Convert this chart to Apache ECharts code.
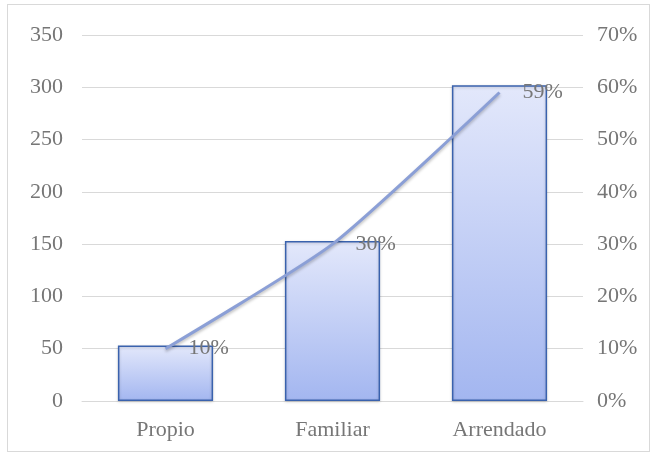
<!DOCTYPE html>
<html>
<head>
<meta charset="utf-8">
<script src="https://cdn.jsdelivr.net/npm/echarts@6/dist/echarts.min.js"></script>
<style>
  html, body { margin: 0; padding: 0; background: #fff; }
  #frame { position: absolute; left: 7px; top: 4px; width: 643px; height: 448px; border: 1px solid #d9d9d9; box-sizing: border-box; }
  #chart { position: absolute; left: 0; top: 0; width: 659px; height: 457px; }
</style>
</head>
<body>
<div id="frame"></div>
<div id="chart"></div>
<script>
// Housing tenure: counts (bars, left axis) and share (line, right axis)
const categories = ['Propio', 'Familiar', 'Arrendado'];
const counts = [53, 153, 302];
const shares = [10, 30, 59];
const leftTicks = { min: 0, max: 350, interval: 50 };
const rightTicks = { min: 0, max: 70, interval: 10 };

const font = 'Liberation Serif, Times New Roman, serif';
const grey = '#767676';
const fs = 22;

const chart = echarts.init(document.getElementById('chart'), null, { renderer: 'canvas' });
chart.setOption({
  animation: false,
  grid: { left: 82, right: 76, top: 35, bottom: 56 },
  xAxis: {
    type: 'category',
    data: categories,
    axisLine: { lineStyle: { color: '#d9d9d9', width: 1 } },
    axisTick: { show: false },
    axisLabel: { color: grey, fontFamily: font, fontSize: fs, margin: 18 }
  },
  yAxis: [
    {
      type: 'value',
      min: leftTicks.min, max: leftTicks.max, interval: leftTicks.interval,
      axisLine: { show: false }, axisTick: { show: false },
      splitLine: { lineStyle: { color: '#d9d9d9', width: 1 } },
      axisLabel: { color: grey, fontFamily: font, fontSize: fs, margin: 19 }
    },
    {
      type: 'value',
      min: rightTicks.min, max: rightTicks.max, interval: rightTicks.interval,
      axisLine: { show: false }, axisTick: { show: false },
      splitLine: { show: false },
      axisLabel: { color: grey, fontFamily: font, fontSize: fs, margin: 14, formatter: '{value}%' }
    }
  ],
  series: [
    {
      type: 'bar',
      data: counts,
      yAxisIndex: 0,
      barWidth: '57%',
      itemStyle: {
        color: new echarts.graphic.LinearGradient(0, 0, 0, 1, [
          { offset: 0, color: '#e3e8fb' },
          { offset: 1, color: '#a3b6f0' }
        ]),
        borderColor: '#3a62ad',
        borderWidth: 1.5,
        shadowColor: 'rgba(0,0,0,0.2)',
        shadowBlur: 3,
        shadowOffsetY: 1
      }
    },
    {
      type: 'line',
      data: shares,
      yAxisIndex: 1,
      smooth: 0.2,
      symbol: 'circle',
      symbolSize: 2,
      showSymbol: true,
      itemStyle: { color: 'rgba(0,0,0,0)', borderWidth: 0 },
      lineStyle: {
        color: '#8b9fd6', width: 3,
        shadowColor: 'rgba(0,0,0,0.25)', shadowBlur: 3, shadowOffsetY: 2
      },
      label: {
        show: true,
        position: 'right',
        distance: 22,
        color: grey,
        fontFamily: font,
        fontSize: fs,
        formatter: p => p.value + '%'
      },
      labelLayout: { hideOverlap: false },
      z: 3
    }
  ]
});
</script>
</body>
</html>
